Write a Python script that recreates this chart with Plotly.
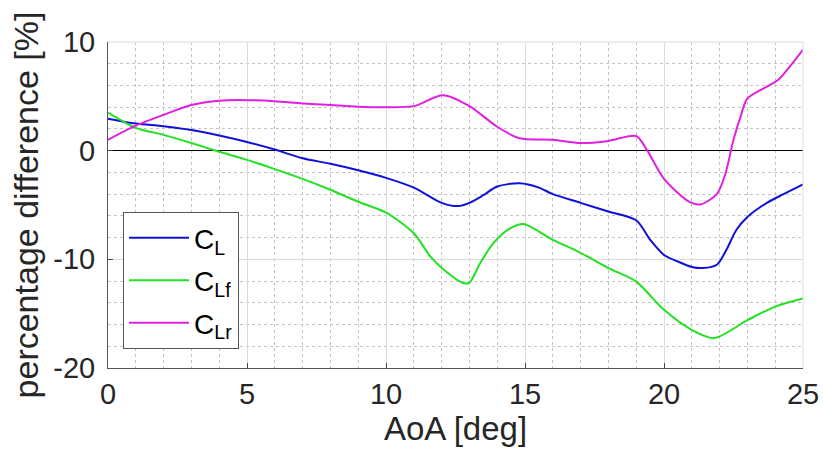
import plotly.graph_objects as go

# ---- data ----
x_cl = [0, 1, 2, 3, 4, 5, 6, 7, 8, 9, 10, 11, 12, 12.6, 13, 13.5, 14, 14.8, 15.5, 16, 17, 18, 19, 19.5, 20, 20.5, 21, 21.4, 21.9, 22.25, 22.6, 23, 23.7, 24.3, 25]
y_cl = [2.95, 2.5, 2.25, 1.9, 1.4, 0.8, 0.1, -0.7, -1.2, -1.8, -2.5, -3.4, -4.8, -5.1, -4.8, -4.1, -3.3, -3.0, -3.4, -4.0, -4.8, -5.6, -6.4, -8.2, -9.6, -10.2, -10.7, -10.8, -10.5, -9.1, -7.3, -6.1, -4.8, -4.0, -3.1]

x_clf = [0, 1, 2, 3, 4, 5, 6, 7, 8, 9, 10, 11, 11.6, 12.1, 12.8, 13.0, 13.4, 13.9, 14.5, 14.95, 16, 17, 18, 19, 20, 21, 21.8, 23, 24, 25]
y_clf = [3.5, 2.1, 1.45, 0.7, -0.1, -0.85, -1.7, -2.6, -3.6, -4.7, -5.7, -7.6, -9.75, -11.0, -12.2, -12.15, -10.3, -8.4, -7.1, -6.75, -8.2, -9.4, -10.8, -12.05, -14.65, -16.5, -17.25, -15.6, -14.35, -13.6]

x_clr = [0, 1, 2, 3, 4, 5, 6, 7, 8, 9, 10, 11, 12.05, 13, 14, 14.8, 16, 17, 18, 19, 19.4, 20, 20.9, 21.3, 21.9, 22.2, 22.5, 22.75, 23, 23.7, 24.1, 25]
y_clr = [1.0, 2.3, 3.3, 4.2, 4.6, 4.65, 4.55, 4.35, 4.2, 4.05, 4.0, 4.1, 5.1, 4.1, 2.2, 1.15, 1.0, 0.7, 0.9, 1.35, 0.0, -2.6, -4.7, -4.95, -4.0, -2.2, 1.0, 3.1, 4.8, 5.9, 6.5, 9.3]

names = ["C<sub>L</sub>", "C<sub>Lf</sub>", "C<sub>Lr</sub>"]
colors = ["#1010d8", "#22e022", "#e020e0"]

x_ticks = [0, 5, 10, 15, 20, 25]
x_ticktext = ["0", "5", "10", "15", "20", "25"]
y_ticks = [-20, -10, 0, 10]
y_ticktext = ["-20", "-10", "0", "10"]

fig = go.Figure()
for i, (xs, ys, nm, col) in enumerate(zip([x_cl, x_clf, x_clr], [y_cl, y_clf, y_clr], names, colors)):
    fig.add_trace(go.Scatter(x=xs, y=ys, mode="lines", name=nm, legendgroup=f"g{i}",
                             line=dict(color=col, width=2, shape="spline", smoothing=0.8)))

font_family = "Liberation Sans, Arial, sans-serif"
fig.update_layout(
    width=823, height=461,
    margin=dict(l=108, r=20, t=42, b=93, autoexpand=False),
    paper_bgcolor="white", plot_bgcolor="white",
    font=dict(family=font_family, color="#262626"),
    showlegend=True,
    legend=dict(x=0.0216, y=0.478, xanchor="left", yanchor="top",
                bgcolor="white", bordercolor="#555555", borderwidth=1,
                itemwidth=60, tracegroupgap=3,
                font=dict(size=28, color="black")),
    xaxis=dict(range=[0, 25], tickvals=x_ticks, ticktext=x_ticktext, ticks="inside", ticklen=5,
               tickcolor="#444", showline=True, linecolor="#555", linewidth=1,
               showgrid=True, gridcolor="#dcdcdc", gridwidth=1, zeroline=False, automargin=False,
               minor=dict(dtick=1, showgrid=True, gridcolor="#c4c4c4", griddash="dot", gridwidth=1),
               tickfont=dict(size=29), title=dict(text="AoA [deg]", font=dict(size=33), standoff=8)),
    yaxis=dict(range=[-20, 10], tickvals=y_ticks, ticktext=y_ticktext, ticks="inside", ticklen=5,
               tickcolor="#444", showline=True, linecolor="#555", linewidth=1,
               showgrid=True, gridcolor="#dcdcdc", gridwidth=1, automargin=False,
               zeroline=True, zerolinecolor="black", zerolinewidth=1,
               minor=dict(dtick=2, showgrid=True, gridcolor="#c4c4c4", griddash="dot", gridwidth=1),
               tickfont=dict(size=29), ticklabelstandoff=6,
               title=dict(text="percentage difference [%]", font=dict(size=34), standoff=4)),
)
# light top/right box edges
fig.add_shape(type="line", xref="paper", yref="paper", x0=0, x1=1, y0=1, y1=1,
              line=dict(color="#dddddd", width=1))
fig.add_shape(type="line", xref="paper", yref="paper", x0=1, x1=1, y0=0, y1=1,
              line=dict(color="#dddddd", width=1))

fig.write_html("out.html")
